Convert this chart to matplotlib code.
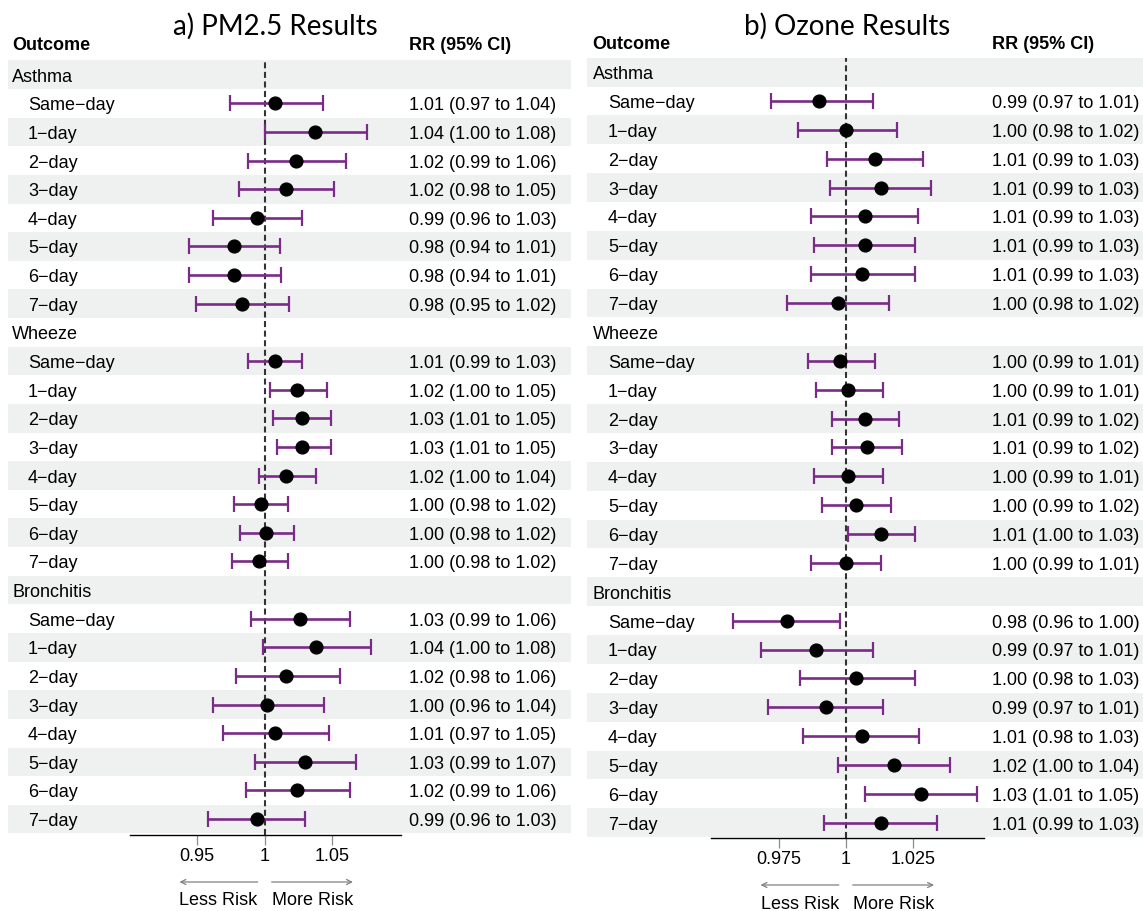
import matplotlib
matplotlib.use("Agg")
import matplotlib.pyplot as plt
from matplotlib.transforms import blended_transform_factory
from matplotlib.patches import Rectangle

plt.rcParams['font.family'] = ['Liberation Sans', 'DejaVu Sans']

# ---------------------------------------------------------------- data
outcomes = ["Asthma", "Wheeze", "Bronchitis"]
lags = ["Same−day", "1−day", "2−day", "3−day", "4−day", "5−day", "6−day", "7−day"]

# PM2.5: relative risk and 95% CI, ordered Asthma, Wheeze, Bronchitis (8 lags each)
pm25_rr = [1.008, 1.037, 1.023, 1.016, 0.994, 0.977, 0.977, 0.983,
           1.008, 1.024, 1.028, 1.028, 1.016, 0.997, 1.001, 0.996,
           1.026, 1.038, 1.016, 1.002, 1.008, 1.030, 1.024, 0.994]
pm25_lo = [0.974, 1.000, 0.988, 0.981, 0.962, 0.944, 0.944, 0.949,
           0.988, 1.004, 1.006, 1.009, 0.996, 0.977, 0.982, 0.976,
           0.990, 0.999, 0.979, 0.962, 0.969, 0.993, 0.986, 0.958]
pm25_hi = [1.043, 1.076, 1.060, 1.051, 1.028, 1.011, 1.012, 1.018,
           1.028, 1.046, 1.049, 1.049, 1.038, 1.017, 1.022, 1.017,
           1.063, 1.079, 1.056, 1.044, 1.048, 1.068, 1.063, 1.030]

# Ozone
o3_rr = [0.990, 1.000, 1.011, 1.013, 1.007, 1.007, 1.006, 0.997,
         0.998, 1.001, 1.007, 1.008, 1.001, 1.004, 1.013, 1.000,
         0.978, 0.989, 1.004, 0.9925, 1.006, 1.018, 1.028, 1.013]
o3_lo = [0.972, 0.982, 0.993, 0.994, 0.987, 0.988, 0.987, 0.978,
         0.986, 0.989, 0.9947, 0.9948, 0.988, 0.991, 1.0007, 0.987,
         0.958, 0.9685, 0.983, 0.971, 0.984, 0.997, 1.007, 0.992]
o3_hi = [1.010, 1.019, 1.029, 1.032, 1.027, 1.026, 1.026, 1.016,
         1.011, 1.014, 1.020, 1.021, 1.014, 1.017, 1.026, 1.013,
         0.998, 1.010, 1.026, 1.014, 1.0275, 1.039, 1.049, 1.034]

pm25_ticks = [0.95, 1, 1.05]
pm25_ticklabels = ["0.95", "1", "1.05"]
o3_ticks = [0.975, 1, 1.025]
o3_ticklabels = ["0.975", "1", "1.025"]

# ---------------------------------------------------------------- style
W, H = 1143, 911
CI_COLOR = "#7a2b87"
BAND = "#eef1f0"
FS = 13
DY = 2.5  # nudges centred text so the glyphs sit on the row centre

fig = plt.figure(figsize=(W / 100, H / 100), dpi=100)
fig.patch.set_facecolor("white")


def fx(x):
    return x / W


def fy(y):
    return 1 - (y + DY) / H


def draw_panel(title, rr, lo, hi, ticks, ticklabels, lay):
    row0, pitch = lay["row0"], lay["pitch"]
    n_rows = len(outcomes) * (len(lags) + 1)
    y_bottom = (lay["axis_y"] - row0) / pitch
    top_px = row0 - 0.5 * pitch

    ax = fig.add_axes([fx(lay["ax_l"]), 1 - lay["axis_y"] / H,
                       (lay["ax_r"] - lay["ax_l"]) / W,
                       (lay["axis_y"] - top_px) / H])
    ax.patch.set_visible(False)
    ax.set_xlim(*lay["xlim"])
    ax.set_ylim(y_bottom, -0.5)

    # alternating row bands across the whole panel
    tr = blended_transform_factory(fig.transFigure, ax.transData)
    for i in range(0, n_rows, 2):
        ax.add_patch(Rectangle((fx(lay["band_l"]), i - 0.5),
                               fx(lay["band_r"] - lay["band_l"]), 1.0,
                               transform=tr, facecolor=BAND, edgecolor="none",
                               zorder=0, clip_on=False))

    # row positions of the estimates
    ys, idx = [], 0
    for g, name in enumerate(outcomes):
        fig.text(fx(lay["lab_x"]), fy(row0 + idx * pitch), name,
                 ha="left", va="center", fontsize=FS)
        idx += 1
        for lag in lags:
            fig.text(fx(lay["ind_x"]), fy(row0 + idx * pitch), lag,
                     ha="left", va="center", fontsize=FS)
            ys.append(idx)
            idx += 1

    ax.axvline(1, color="#333333", lw=1.5, ls=(0, (2.9, 1.7)), zorder=1)

    xerr = [[r - l for r, l in zip(rr, lo)], [h - r for r, h in zip(rr, hi)]]
    ax.errorbar(rr, ys, xerr=xerr, fmt="none", ecolor=CI_COLOR,
                elinewidth=1.9, capsize=5.5, capthick=1.6, zorder=2)
    ax.plot(rr, ys, "o", color="black", ms=9.2, zorder=3)

    for y, r, l, h in zip(ys, rr, lo, hi):
        fig.text(fx(lay["txt_x"]), fy(row0 + y * pitch),
                 f"{r:.2f} ({l:.2f} to {h:.2f})",
                 ha="left", va="center", fontsize=FS)

    # headers and title
    fig.text(fx(lay["lab_x"]), fy(lay["head_y"]), "Outcome", ha="left",
             va="center", fontsize=FS, fontweight="bold")
    fig.text(fx(lay["txt_x"]), fy(lay["head_y"]), "RR (95% CI)", ha="left",
             va="center", fontsize=FS, fontweight="bold")
    fig.text(fx(lay["title_x"]), fy(lay["title_y"]), title, ha="center",
             va="center", fontsize=20, family=["Lato", "DejaVu Sans"])

    # x axis
    for s in ("top", "right", "left"):
        ax.spines[s].set_visible(False)
    ax.spines["bottom"].set_linewidth(1.0)
    ax.spines["bottom"].set_color("black")
    ax.set_yticks([])
    ax.set_xticks(ticks)
    ax.set_xticklabels(ticklabels)
    ax.tick_params(axis="x", length=7, width=0.9, color="#8c8c8c",
                   labelsize=FS, pad=3, labelcolor="black")

    # risk direction arrows
    x1 = ax.transData.transform((1, 0))[0]
    gap = 7
    t_less = fig.text(fx(x1 - gap), fy(lay["risk_y"]), "Less Risk",
                      ha="right", va="center", fontsize=FS)
    t_more = fig.text(fx(x1 + gap), fy(lay["risk_y"]), "More Risk",
                      ha="left", va="center", fontsize=FS)
    rend = fig.canvas.get_renderer()
    wl = t_less.get_window_extent(rend).width
    wm = t_more.get_window_extent(rend).width
    ay = H - lay["arrow_y"]
    arrow = dict(arrowstyle="->", color="#808080", lw=0.9,
                 mutation_scale=9, shrinkA=0, shrinkB=0)
    ax.annotate("", xy=(x1 - gap - wl, ay), xytext=(x1 - gap, ay),
                xycoords="figure pixels", textcoords="figure pixels",
                arrowprops=arrow, annotation_clip=False)
    ax.annotate("", xy=(x1 + gap + wm, ay), xytext=(x1 + gap, ay),
                xycoords="figure pixels", textcoords="figure pixels",
                arrowprops=arrow, annotation_clip=False)


layout_a = dict(band_l=8, band_r=571, lab_x=12, ind_x=28, ax_l=130, ax_r=401,
                txt_x=409, row0=74.7, pitch=28.63, axis_y=834.5,
                title_x=275.5, title_y=24, head_y=43.3,
                xlim=(0.9002, 1.101), arrow_y=882, risk_y=898)
layout_b = dict(band_l=587, band_r=1143, lab_x=592.5, ind_x=608, ax_l=711,
                ax_r=984, txt_x=992, row0=72.1, pitch=28.87, axis_y=837.5,
                title_x=847.5, title_y=24, head_y=41.7,
                xlim=(0.9497, 1.0516), arrow_y=885, risk_y=902)

draw_panel("a) PM2.5 Results", pm25_rr, pm25_lo, pm25_hi,
           pm25_ticks, pm25_ticklabels, layout_a)
draw_panel("b) Ozone Results", o3_rr, o3_lo, o3_hi,
           o3_ticks, o3_ticklabels, layout_b)

fig.savefig("out.png", dpi=100, facecolor="white")
